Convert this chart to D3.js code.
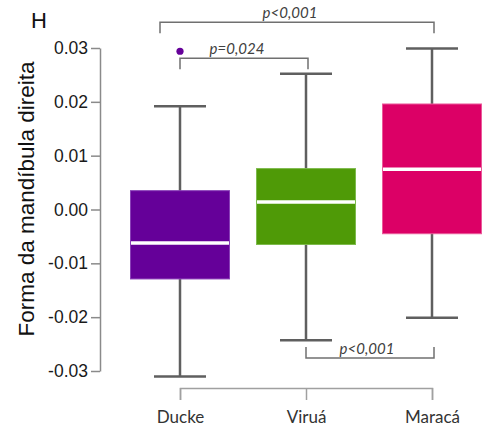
<!DOCTYPE html>
<html>
<head>
<meta charset="utf-8">
<script src="https://cdn.jsdelivr.net/npm/d3@7"></script>
<style>
  html, body { margin: 0; padding: 0; background: #fff; }
  svg { display: block; }
</style>
</head>
<body>
<svg id="chart" width="483" height="428"></svg>
<script>
// Sites sampled
const categories = ["Ducke", "Viruá", "Maracá"];
// Box summaries of right mandible shape scores
const whiskerLow  = [-0.0310, -0.0243, -0.0201];
const q1          = [-0.0129, -0.0065, -0.0045];
const medians     = [-0.0062,  0.0014,  0.0075];
const q3          = [ 0.0035,  0.0076,  0.0196];
const whiskerHigh = [ 0.0192,  0.0252,  0.0299];
const outliers    = [{ site: "Ducke", value: 0.0294 }];
const fills       = ["#650099", "#4f9a07", "#dc0066"];
const edges       = ["#8a40b8", "#7dba4c", "#ea5a9a"];
const yTicks      = [0.03, 0.02, 0.01, 0.00, -0.01, -0.02, -0.03];
// Pairwise comparisons: [from, to, label, level, side]
const comparisons = [
  { a: "Ducke", b: "Maracá", label: "p<0,001", level: 0.0348, dir: "down", padLeft: 20 },
  { a: "Ducke", b: "Viruá",  label: "p=0,024", level: 0.0281, dir: "down", padLeft: 0 },
  { a: "Viruá", b: "Maracá", label: "p<0,001", level: -0.0276, dir: "up", padLeft: 0 }
];

const svg = d3.select("#chart");

const y = d3.scaleLinear().domain([-0.03, 0.03]).range([371, 48]);
const x = d3.scalePoint().domain(categories).range([180, 432]);
const boxW = 100, capW = 52;

// Y axis
const yAxis = d3.axisLeft(y)
  .tickValues(yTicks)
  .tickSize(9)
  .tickSizeOuter(0)
  .tickPadding(3)
  .tickFormat(d => d3.format(".2f")(d).replace("\u2212", "-"));
const gy = svg.append("g").attr("transform", "translate(100,0)").call(yAxis);
gy.select(".domain").attr("stroke", "#8a8a8a").attr("stroke-width", 1.5);
gy.selectAll(".tick line").attr("stroke", "#8a8a8a").attr("stroke-width", 1.5);
gy.selectAll(".tick text")
  .attr("font-family", "Liberation Sans, Arial, sans-serif")
  .attr("font-size", 17.5)
  .attr("fill", "#1a1a1a");

// X axis drawn as a bracket under the groups
const xAxis = d3.axisBottom(x).tickSize(12).tickSizeOuter(12).tickPadding(11);
const gx = svg.append("g").attr("transform", "translate(0,388)").call(xAxis);
gx.select(".domain").attr("stroke", "#a0a0a0").attr("stroke-width", 1.5);
gx.selectAll(".tick line").attr("stroke", "#a0a0a0").attr("stroke-width", 1.5);
gx.selectAll(".tick text")
  .attr("font-family", "Lato, Open Sans, sans-serif")
  .attr("font-size", 17)
  .attr("fill", "#333");

// Y title and panel letter
svg.append("text")
  .attr("transform", `translate(34,${(60 + 338) / 2}) rotate(-90)`)
  .attr("text-anchor", "middle")
  .attr("font-family", "Liberation Sans, Arial, sans-serif")
  .attr("font-size", 22.5)
  .attr("fill", "#111")
  .text("Forma da mandíbula direita");

svg.append("text")
  .attr("x", 31).attr("y", 28)
  .attr("font-family", "Liberation Sans, Arial, sans-serif")
  .attr("font-size", 22)
  .attr("fill", "#111")
  .text("H");

// Boxes
const groups = svg.append("g").selectAll("g")
  .data(categories.map((c, i) => ({
    c, lo: whiskerLow[i], q1: q1[i], med: medians[i], q3: q3[i], hi: whiskerHigh[i],
    fill: fills[i], edge: edges[i]
  })))
  .join("g");

groups.append("line")
  .attr("x1", d => x(d.c)).attr("x2", d => x(d.c))
  .attr("y1", d => y(d.hi)).attr("y2", d => y(d.lo))
  .attr("stroke", "#5f5f5f").attr("stroke-width", 2.5);

groups.selectAll(".cap")
  .data(d => [d.hi, d.lo].map(v => ({ c: d.c, v })))
  .join("line")
  .attr("x1", d => x(d.c) - capW / 2).attr("x2", d => x(d.c) + capW / 2)
  .attr("y1", d => y(d.v)).attr("y2", d => y(d.v))
  .attr("stroke", "#5f5f5f").attr("stroke-width", 2.5);

groups.append("rect")
  .attr("x", d => x(d.c) - boxW / 2 + 0.5)
  .attr("width", boxW - 1)
  .attr("y", d => y(d.q3))
  .attr("height", d => y(d.q1) - y(d.q3))
  .attr("fill", d => d.fill)
  .attr("stroke", d => d.edge)
  .attr("stroke-width", 1);

groups.append("line")
  .attr("x1", d => x(d.c) - boxW / 2 + 1).attr("x2", d => x(d.c) + boxW / 2 - 1)
  .attr("y1", d => y(d.med)).attr("y2", d => y(d.med))
  .attr("stroke", "#fff").attr("stroke-width", 3.5);

// Outliers
svg.append("g").selectAll("circle")
  .data(outliers)
  .join("circle")
  .attr("cx", d => x(d.site))
  .attr("cy", d => y(d.value))
  .attr("r", 3.6)
  .attr("fill", fills[0]);

// Significance brackets
const tick = 11;
const br = svg.append("g");
comparisons.forEach(cmp => {
  const x1 = x(cmp.a) - cmp.padLeft, x2 = x(cmp.b) + 2;
  const yy = y(cmp.level);
  const t = cmp.dir === "down" ? tick : -tick;
  br.append("path")
    .attr("d", `M${x1},${yy + t}V${yy}H${x2}V${yy + t}`)
    .attr("fill", "none")
    .attr("stroke", "#707070")
    .attr("stroke-width", 1.5);
  br.append("text")
    .attr("x", (x(cmp.a) + x(cmp.b)) / 2 + (cmp.dir === "up" ? -2 : (cmp.padLeft ? -16 : -6)))
    .attr("y", yy - 4)
    .attr("text-anchor", "middle")
    .attr("font-family", "Lato, Open Sans, sans-serif")
    .attr("font-style", "italic")
    .attr("font-size", 15)
    .attr("fill", "#404040")
    .text(cmp.label);
});
</script>
</body>
</html>
